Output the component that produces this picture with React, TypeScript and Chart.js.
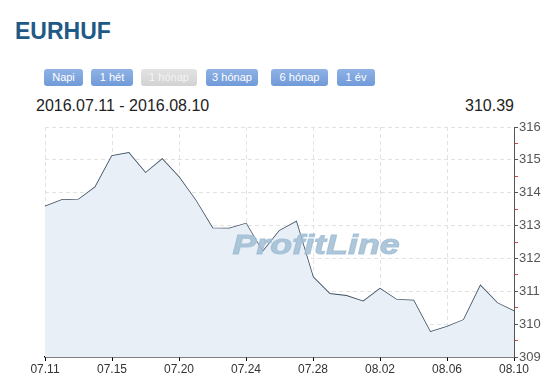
import React, { useEffect, useRef } from "react";
import { Chart, registerables } from "chart.js";

Chart.register(...registerables);

const dates = [
  "07.11", "07.12", "07.13", "07.14", "07.15", "07.16", "07.18", "07.19",
  "07.20", "07.21", "07.22", "07.23", "07.24", "07.25", "07.26", "07.27",
  "07.28", "07.29", "07.31", "08.01", "08.02", "08.03", "08.04", "08.05",
  "08.06", "08.07", "08.08", "08.09", "08.10",
];

const rates = [
  313.58, 313.78, 313.79, 314.17, 315.12, 315.21, 314.6, 315.02,
  314.47, 313.76, 312.92, 312.91, 313.06, 312.2, 312.84, 313.12,
  311.43, 310.92, 310.86, 310.69, 311.08, 310.74, 310.72, 309.76,
  309.92, 310.13, 311.17, 310.64, 310.39,
];

const yMin = 309;
const yMax = 316;
const labelEvery = 4;

const buttons = [
  { text: "Napi", left: 44, width: 39, active: true },
  { text: "1 hét", left: 91, width: 42, active: true },
  { text: "1 hónap", left: 141, width: 56, active: false },
  { text: "3 hónap", left: 206, width: 52, active: true },
  { text: "6 hónap", left: 271, width: 57, active: true },
  { text: "1 év", left: 337, width: 38, active: true },
];

const FONT = 'Arial, "Liberation Sans", sans-serif';

const watermark = {
  id: "watermark",
  afterDatasetDraw(chart: any, args: any) {
    if (args.index !== 0) return;
    const { ctx, chartArea } = chart;
    const cx = chartArea.left + (chartArea.right - chartArea.left) * 0.578;
    const cy = chartArea.top + (chartArea.bottom - chartArea.top) * 0.52;
    ctx.save();
    ctx.translate(cx, cy);
    ctx.scale(1.28, 1);
    ctx.font = `italic bold 28px ${FONT}`;
    ctx.fillStyle = "rgba(160, 189, 212, 0.85)";
    ctx.strokeStyle = "rgba(160, 189, 212, 0.85)";
    ctx.lineWidth = 1;
    ctx.textAlign = "center";
    ctx.textBaseline = "middle";
    ctx.fillText("ProfitLine", 0, 0);
    ctx.strokeText("ProfitLine", 0, 0);
    ctx.restore();
  },
};

export default function App() {
  const ref = useRef<HTMLCanvasElement | null>(null);

  useEffect(() => {
    document.body.style.margin = "0";
    if (!ref.current) return;
    const chart = new Chart(ref.current, {
      type: "line",
      data: {
        labels: dates,
        datasets: [
          {
            data: rates,
            fill: "start",
            backgroundColor: "#e8eff7",
            borderWidth: 0,
            borderColor: "transparent",
            pointRadius: 0,
            tension: 0,
          },
          {
            data: rates,
            fill: false,
            borderColor: "#3e4f60",
            borderWidth: 1.6,
            pointRadius: 0,
            tension: 0,
          },
        ],
      },
      plugins: [watermark],
      options: {
        responsive: false,
        animation: false,
        events: [],
        layout: { padding: { left: 45, right: 0, top: 127, bottom: 1 } },
        plugins: {
          legend: { display: false },
          tooltip: { enabled: false },
          title: { display: false },
        },
        scales: {
          x: {
            type: "category",
            offset: false,
            afterFit: (s: any) => {
              s.height = 23;
            },
            grid: {
              color: (c: any) => (c.index % labelEvery === 0 ? "#e2e2e2" : "transparent"),
              tickColor: (c: any) => (c.index % labelEvery === 0 ? "#000" : "transparent"),
              tickLength: 4,
              lineWidth: 1,
            },
            border: { color: "#000", width: 1.5, dash: [4, 3] },
            ticks: {
              autoSkip: false,
              maxRotation: 0,
              padding: 1,
              color: "#333",
              font: { family: FONT, size: 12 },
              callback: (_v: any, i: number) => (i % labelEvery === 0 ? dates[i] : ""),
            },
          },
          y: {
            position: "right",
            min: yMin,
            max: yMax,
            afterFit: (s: any) => {
              s.width = 38;
            },
            grid: {
              color: (c: any) =>
                Number.isInteger(c.tick.value) && c.tick.value !== yMin ? "#e2e2e2" : "transparent",
              tickColor: (c: any) => (Number.isInteger(c.tick.value) ? "#555" : "#d04848"),
              tickLength: 4,
            },
            border: { color: "#555", width: 1, dash: [4, 3] },
            ticks: {
              stepSize: 0.5,
              autoSkip: false,
              padding: 1,
              color: "#555",
              font: { family: FONT, size: 13 },
              callback: (v: any) => (Number.isInteger(v) ? String(v) : ""),
            },
          },
        },
      },
    });
    return () => chart.destroy();
  }, []);

  return (
    <div
      style={{
        position: "absolute",
        left: 0,
        top: 0,
        width: 552,
        height: 381,
        background: "#fff",
        fontFamily: FONT,
        overflow: "hidden",
      }}
    >
      <div
        style={{
          position: "absolute",
          left: 15,
          top: 20,
          fontSize: 23,
          lineHeight: "23px",
          fontWeight: "bold",
          color: "#1f5a86",
        }}
      >
        EURHUF
      </div>
      {buttons.map((b) => (
        <div
          key={b.text}
          style={{
            position: "absolute",
            left: b.left,
            top: 69,
            width: b.width,
            height: 17,
            lineHeight: "17px",
            borderRadius: 3,
            background: b.active
              ? "linear-gradient(#8fb3e6, #7099d8)"
              : "linear-gradient(#e3e3e3, #d2d2d2)",
            color: b.active ? "#fff" : "#f4f4f4",
            fontSize: 11,
            textAlign: "center",
          }}
        >
          {b.text}
        </div>
      ))}
      <div
        style={{
          position: "absolute",
          left: 36,
          top: 97,
          fontSize: 16,
          lineHeight: "18px",
          color: "#222",
        }}
      >
        2016.07.11 - 2016.08.10
      </div>
      <div
        style={{
          position: "absolute",
          right: 552 - 514,
          top: 97,
          fontSize: 16,
          lineHeight: "18px",
          color: "#222",
        }}
      >
        310.39
      </div>
      <canvas
        ref={ref}
        width={552}
        height={381}
        style={{ position: "absolute", left: 0, top: 0 }}
      />
    </div>
  );
}
